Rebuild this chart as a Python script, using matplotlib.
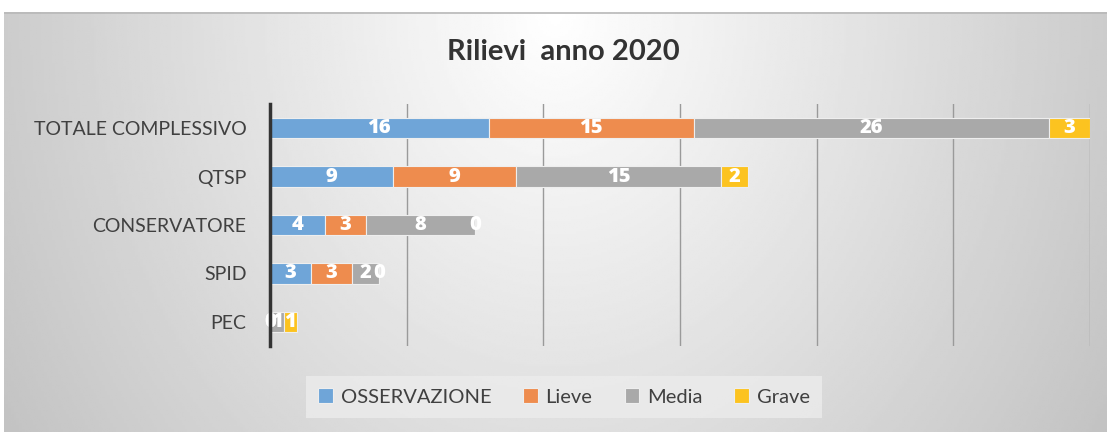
import numpy as np
import matplotlib
matplotlib.use('Agg')
import matplotlib.pyplot as plt

plt.rcParams['font.family'] = ['Lato', 'DejaVu Sans']

categories = ['TOTALE COMPLESSIVO', 'QTSP', 'CONSERVATORE', 'SPID', 'PEC']
series_names = ['OSSERVAZIONE', 'Lieve', 'Media', 'Grave']
osservazione = [16, 9, 4, 3, 0]
lieve = [15, 9, 3, 3, 0]
media = [26, 15, 8, 2, 1]
grave = [3, 2, 0, 0, 1]
colors = ['#6fa5d8', '#ee8c4e', '#a9a9a9', '#fcc320']

W, H = 1107, 432
fig = plt.figure(figsize=(W / 100, H / 100), dpi=100)

# sfondo sfumato dell'area grafico
bg = fig.add_axes([4 / W, 0, 1 - 4 / W, (H - 12) / H])
gx, gy = np.meshgrid(np.linspace(-1, 1, 400), np.linspace(0, 1, 200))
r = np.sqrt(gx ** 2 + (gy / 1.6) ** 2)
shade = 1.0 - 0.24 * np.clip(r, 0, 1.2) / 1.2
bg.imshow(shade, cmap='gray', vmin=0, vmax=1, aspect='auto', extent=[0, 1, 0, 1])
bg.plot([0, 1], [0.998, 0.998], color='#b8b8b8', lw=1.2)
bg.set_xlim(0, 1)
bg.set_ylim(0, 1)
bg.axis('off')

ax = fig.add_axes([270 / W, 1 - 346 / H, 820 / W, 242 / H])
ax.patch.set_alpha(0)

y = np.arange(len(categories))
left = np.zeros(len(categories))
for name, vals, col in zip(series_names, [osservazione, lieve, media, grave], colors):
    vals = np.array(vals, dtype=float)
    bars = ax.barh(y, vals, left=left, height=0.42, color=col, edgecolor='#eeeeee',
                   linewidth=0.8, label=name, zorder=3)
    for b, v in zip(bars, vals):
        ax.text(b.get_x() + b.get_width() / 2, b.get_y() + b.get_height() / 2, '%d' % v,
                ha='center', va='center', color='white', fontsize=14.5, fontweight='heavy',
                family=['Open Sans', 'DejaVu Sans'], zorder=4)
    left += vals

ax.set_xlim(0, 60)
ax.set_ylim(4.5, -0.5)
ax.set_xticks(np.arange(10, 61, 10))
ax.grid(axis='x', color='#9a9a9a', lw=1.0, zorder=1)
ax.tick_params(axis='x', length=0, labelbottom=False)
ax.tick_params(axis='y', length=0, pad=17)
ax.set_yticks(y)
ax.set_yticklabels(categories, fontsize=14, color='#404040')
for s in ['top', 'right', 'bottom']:
    ax.spines[s].set_visible(False)
ax.spines['left'].set_color('#333333')
ax.spines['left'].set_linewidth(2.5)
ax.spines['left'].set_zorder(5)

fig.text(0.509, 1 - 52 / H, 'Rilievi  anno 2020', ha='center', va='center',
         fontsize=21, fontweight='bold', color='#333333')

leg = fig.legend(loc='center', bbox_to_anchor=(564 / W, 1 - 397 / H), ncol=4,
                 frameon=True, fontsize=14.5, handlelength=0.7, handleheight=0.7,
                 handletextpad=0.4, columnspacing=1.6, borderpad=0.6)
leg.get_frame().set_facecolor('#ececec')
leg.get_frame().set_edgecolor('none')
leg.get_frame().set_boxstyle('square', pad=0)
for t in leg.get_texts():
    t.set_color('#404040')

fig.savefig('out.png', dpi=100)
